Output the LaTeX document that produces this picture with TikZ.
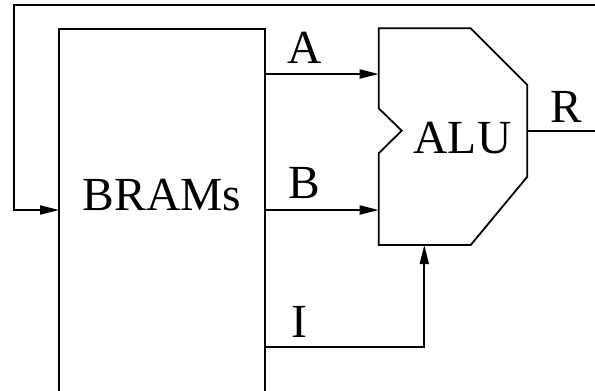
\documentclass[tikz,border=0pt]{standalone}
\usepackage{fontspec}
\setmainfont{Liberation Serif}
\usetikzlibrary{arrows.meta}
\begin{document}
\begin{tikzpicture}[x=1pt,y=-1pt,line width=1.8pt,
  arr/.style={-{Triangle[length=19pt,width=9pt]}},
  lbl/.style={font=\fontsize{47.5}{52}\selectfont,inner sep=0pt}]
\useasboundingbox (0,0) rectangle (595,391);
% BRAMs block (runs off the bottom edge)
\node[draw,rectangle,outer sep=0pt,inner sep=0pt,minimum width=206pt,minimum height=400pt,anchor=north west] (bram) at (59,29) {};
\node[lbl] (bramtxt) at (162,195) {BRAMs};
% ALU shape
\coordinate (a1) at (378.7,28.3);
\coordinate (a2) at (470.7,28.3);
\coordinate (a3) at (527.3,85);
\coordinate (a4) at (527.3,176.7);
\coordinate (a5) at (470.7,245);
\coordinate (a6) at (378.7,245);
\coordinate (a7) at (378.7,153.3);
\coordinate (a8) at (401.7,130.7);
\coordinate (a9) at (378.7,108.3);
\draw[line join=miter] (a1) -- (a2) -- (a3) -- (a4) -- (a5) -- (a6) -- (a7) -- (a8) -- (a9) -- cycle;
\node[lbl] (alu) at (462.5,138) {ALU};
% inputs
\coordinate (ain) at (378.7,74);
\coordinate (bin) at (378.7,210);
\coordinate (iin) at (424.3,245);
\coordinate (aout) at (bram.east |- ain);
\coordinate (bout) at (bram.east |- bin);
\coordinate (iout) at (265,347);
\draw[arr] (aout) -- (ain);
\draw[arr] (bout) -- (bin);
\draw[arr] (iout) -- (iout -| iin) -- (iin);
\node[lbl] (la) at (305,48) {A};
\node[lbl] (lb) at (304,183) {B};
\node[lbl] (li) at (299,322) {I};
% output
\coordinate (rin) at (a3 |- a8);
\coordinate (rout) at (600,130.7);
\draw (rin) -- (rout);
\node[lbl] (lr) at (566,107) {R};
% feedback
\coordinate (fb) at (600,5);
\coordinate (bw) at (bram.west |- bin);
\draw[arr,line join=miter] (fb) -- (14,5) -- (14,210) -- (bw);
\end{tikzpicture}
\end{document}
